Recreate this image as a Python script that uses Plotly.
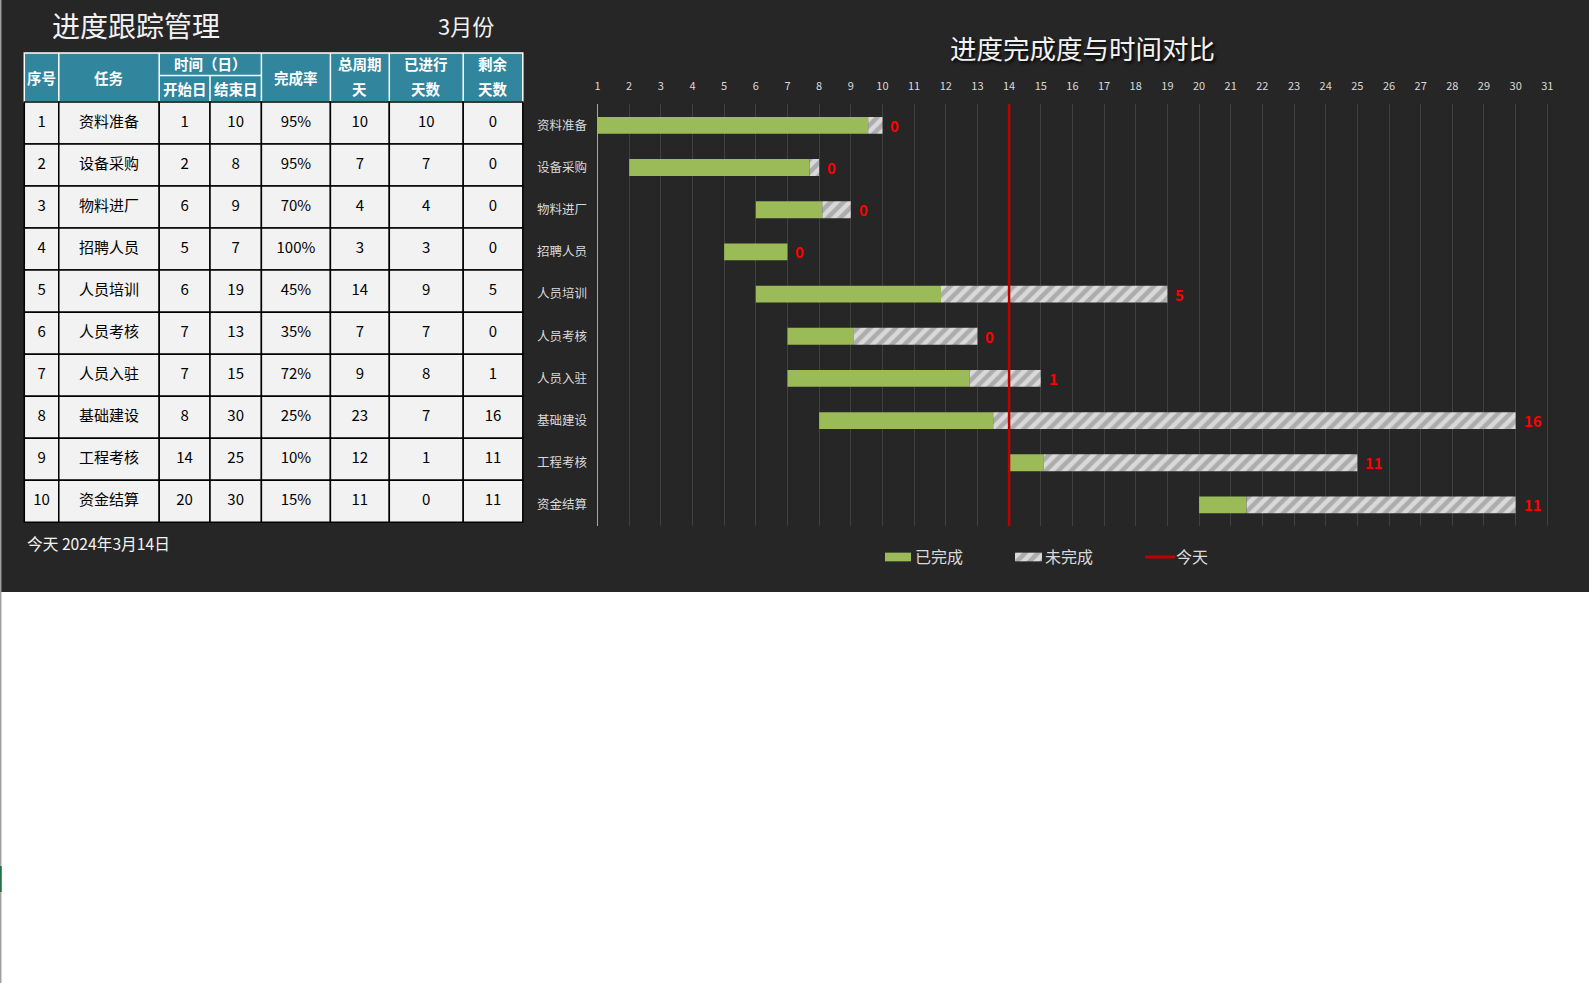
import plotly.graph_objects as go

W, H = 1589, 983
FONT = "Noto Sans CJK SC"

# ---------------- data ----------------
seq_no = [1, 2, 3, 4, 5, 6, 7, 8, 9, 10]
tasks = ["资料准备", "设备采购", "物料进厂", "招聘人员", "人员培训",
         "人员考核", "人员入驻", "基础建设", "工程考核", "资金结算"]
start_day = [1, 2, 6, 5, 6, 7, 7, 8, 14, 20]
end_day = [10, 8, 9, 7, 19, 13, 15, 30, 25, 30]
completion_text = ["95%", "95%", "70%", "100%", "45%", "35%", "72%", "25%", "10%", "15%"]
completion_rate = [0.95, 0.95, 0.70, 1.00, 0.45, 0.35, 0.72, 0.25, 0.10, 0.15]
total_days = [10, 7, 4, 3, 14, 7, 9, 23, 12, 11]
elapsed_days = [10, 7, 4, 3, 9, 7, 8, 7, 1, 0]
remaining_days = [0, 0, 0, 0, 5, 0, 1, 16, 11, 11]
today_day = 14
day_ticks = list(range(1, 32))

page_title = "进度跟踪管理"
month_label = "3月份"
chart_title = "进度完成度与时间对比"
today_note = "今天 2024年3月14日"
legend_labels = ["已完成", "未完成", "今天"]

# header texts
head_single = ["序号", "任务", None, None, "完成率", None, None, None]
head_group = "时间（日）"
head_sub = ["开始日", "结束日"]
head_two_line = {5: ("总周期", "天"), 6: ("已进行", "天数"), 7: ("剩余", "天数")}

# ---------------- styles ----------------
BG_DARK = "#262626"
GREEN = "#9BBB59"
HATCH_BG = "#D9D9D9"
HATCH_FG = "#7F7F7F"
TODAY_RED = "#C00000"
TEAL = "#31859C"
CELL = "#F2F2F2"
LIGHT_TXT = "#D9D9D9"

# table geometry (pixel units)
col_edges = [24.3, 58.8, 159.2, 210.0, 261.4, 330.4, 389.3, 463.2, 522.8]
hdr_top, hdr_mid, hdr_bot = 53.0, 75.5, 102.0
row_h = (522.3 - hdr_bot) / len(tasks)

# gantt geometry
px_day1, px_per_day = 597.5, 31.66
x_range = [1, 31.05]
x_dom = [px_day1 / W, (px_day1 + (x_range[1] - 1) * px_per_day) / W]
plot_top, plot_bot = 104.3, 526.0
y_dom = [(H - plot_bot) / H, (H - plot_top) / H]

span = [e - s for s, e in zip(start_day, end_day)]
done_len = [r * sp for r, sp in zip(completion_rate, span)]
todo_len = [(1 - r) * sp for r, sp in zip(completion_rate, span)]
todo_base = [s + d for s, d in zip(start_day, done_len)]

fig = go.Figure()

hatch = dict(shape="/", fgcolor=HATCH_FG, bgcolor=HATCH_BG, size=9, solidity=0.5)

fig.add_trace(go.Bar(y=tasks, x=done_len, base=start_day, orientation="h", width=0.4,
                     marker=dict(color=GREEN, line=dict(width=0)),
                     name=legend_labels[0], xaxis="x", yaxis="y", showlegend=False,
                     hoverinfo="skip"))
fig.add_trace(go.Bar(y=tasks, x=todo_len, base=todo_base, orientation="h", width=0.4,
                     marker=dict(color=HATCH_BG, pattern=hatch, line=dict(width=0)),
                     name=legend_labels[1], xaxis="x", yaxis="y", showlegend=False,
                     hoverinfo="skip"))

# remaining-days labels
for t, e, r in zip(tasks, end_day, remaining_days):
    fig.add_annotation(x=e, y=t, xref="x", yref="y", text=f"<b>{r}</b>", showarrow=False,
                       xanchor="left", xshift=6, yshift=0,
                       font=dict(family=FONT, size=15, color="#FF0000"))

shapes = []
# today line
shapes.append(dict(type="line", xref="x", yref="y domain", x0=today_day, x1=today_day, y0=0, y1=1,
                   line=dict(color=TODAY_RED, width=2.5), layer="above"))
# white lower page area (paper bg is dark)
shapes.append(dict(type="rect", xref="x2", yref="y2", x0=0, x1=W, y0=592, y1=H,
                   fillcolor="white", line=dict(width=0), layer="below"))
shapes.append(dict(type="line", xref="x2", yref="y2", x0=0.7, x1=0.7, y0=0, y1=H,
                   line=dict(color="#A0A0A0", width=1.5), layer="above"))
shapes.append(dict(type="line", xref="x2", yref="y2", x0=0.7, x1=0.7, y0=866, y1=892,
                   line=dict(color="#217346", width=2), layer="above"))

# header
shapes.append(dict(type="rect", xref="x2", yref="y2", x0=col_edges[0], x1=col_edges[-1],
                   y0=hdr_top, y1=hdr_bot, fillcolor=TEAL, line=dict(color="white", width=1.5),
                   layer="below"))
for i, xe in enumerate(col_edges[1:-1], start=1):
    y_start = hdr_mid if i == 3 else hdr_top
    shapes.append(dict(type="line", xref="x2", yref="y2", x0=xe, x1=xe, y0=y_start, y1=hdr_bot,
                       line=dict(color="white", width=1.5), layer="below"))
shapes.append(dict(type="line", xref="x2", yref="y2", x0=col_edges[2], x1=col_edges[4],
                   y0=hdr_mid, y1=hdr_mid, line=dict(color="white", width=1.5), layer="below"))

# body cells
for r in range(len(tasks)):
    y0 = hdr_bot + r * row_h
    for c in range(len(col_edges) - 1):
        shapes.append(dict(type="rect", xref="x2", yref="y2", x0=col_edges[c], x1=col_edges[c + 1],
                           y0=y0, y1=y0 + row_h, fillcolor=CELL,
                           line=dict(color="black", width=1.5), layer="below"))

# legend swatch (line)
shapes.append(dict(type="line", xref="x2", yref="y2", x0=1145, x1=1175, y0=557, y1=557,
                   line=dict(color=TODAY_RED, width=3), layer="above"))
fig.update_layout(shapes=shapes)

# body text
col_centers = [(a + b) / 2 for a, b in zip(col_edges[:-1], col_edges[1:])]
columns = [seq_no, tasks, start_day, end_day, completion_text, total_days, elapsed_days, remaining_days]
tx, ty, tt = [], [], []
for c, vals in enumerate(columns):
    for r, v in enumerate(vals):
        tx.append(col_centers[c])
        ty.append(hdr_bot + (r + 0.5) * row_h)
        tt.append(str(v))
fig.add_trace(go.Scatter(x=tx, y=ty, text=tt, mode="text", xaxis="x2", yaxis="y2",
                         textfont=dict(family=FONT, size=15, color="black"),
                         showlegend=False, hoverinfo="skip", cliponaxis=False))

# legend swatch bars
fig.add_trace(go.Bar(y=[557], x=[26], base=[885], orientation="h", width=[8.7],
                     marker=dict(color=GREEN, line=dict(width=0)), xaxis="x2", yaxis="y2",
                     showlegend=False, hoverinfo="skip"))
fig.add_trace(go.Bar(y=[557], x=[27], base=[1015], orientation="h", width=[8.7],
                     marker=dict(color=HATCH_BG, pattern=hatch, line=dict(width=0)),
                     xaxis="x2", yaxis="y2", showlegend=False, hoverinfo="skip"))

# header text
hfont = dict(family=FONT, size=14.5, color="white")
def ann(x, y, text, font, xanchor="center"):
    fig.add_annotation(x=x, y=y, xref="x2", yref="y2", text=text, showarrow=False,
                       xanchor=xanchor, yanchor="middle", font=font)

mid_y = (hdr_top + hdr_bot) / 2
top_y = (hdr_top + hdr_mid) / 2 - 1
bot_y = (hdr_mid + hdr_bot) / 2
for c, t in enumerate(head_single):
    if t:
        ann(col_centers[c], mid_y, f"<b>{t}</b>", hfont)
ann((col_edges[2] + col_edges[4]) / 2, top_y, f"<b>{head_group}</b>", hfont)
ann(col_centers[2], bot_y, f"<b>{head_sub[0]}</b>", hfont)
ann(col_centers[3], bot_y, f"<b>{head_sub[1]}</b>", hfont)
for c, (a, b) in head_two_line.items():
    ann(col_centers[c], top_y, f"<b>{a}</b>", hfont)
    ann(col_centers[c], bot_y, f"<b>{b}</b>", hfont)

# titles / notes
ann(50, 25, page_title, dict(family=FONT, size=28, color="#F2F2F2"), xanchor="left")
ann(436, 25, month_label, dict(family=FONT, size=22, color="#F2F2F2"), xanchor="left")
fig.add_annotation(x=1082.5, y=47.5, xref="x2", yref="y2", text=chart_title, showarrow=False,
                   xanchor="center", yanchor="middle",
                   font=dict(family=FONT, size=26.5, color="#F2F2F2",
                             shadow="2px 2px 3px rgba(0,0,0,0.9)"))
ann(25, 543, today_note, dict(family=FONT, size=15.7, color="#F2F2F2"), xanchor="left")

# legend texts
lfont = dict(family=FONT, size=16, color=LIGHT_TXT)
for xpos, lab in zip([913, 1043, 1174], legend_labels):
    ann(xpos, 555.5, lab, lfont, xanchor="left")

fig.update_layout(
    width=W, height=H, autosize=False,
    margin=dict(l=0, r=0, t=0, b=0, pad=0, autoexpand=False),
    paper_bgcolor=BG_DARK, plot_bgcolor="rgba(0,0,0,0)",
    barmode="overlay", showlegend=False,
    font=dict(family=FONT),
    xaxis=dict(domain=x_dom, range=x_range, side="top", anchor="y", automargin=False,
               tickmode="array", tickvals=day_ticks, ticktext=[str(d) for d in day_ticks],
               showgrid=True, gridcolor="#404040", gridwidth=1, zeroline=False, showline=False,
               ticks="outside", ticklen=9, tickcolor="rgba(0,0,0,0)",
               tickfont=dict(family=FONT, size=11, color=LIGHT_TXT), fixedrange=True),
    yaxis=dict(domain=y_dom, type="category", categoryorder="array", categoryarray=tasks,
               range=[9.5, -0.5], anchor="x", showgrid=False, zeroline=False, automargin=False,
               showline=True, linecolor="#A6A6A6", linewidth=1,
               ticks="outside", ticklen=7, tickcolor="rgba(0,0,0,0)",
               tickfont=dict(family=FONT, size=12.5, color=LIGHT_TXT), fixedrange=True),
    xaxis2=dict(domain=[0, 1], range=[0, W], anchor="y2", visible=False, fixedrange=True,
                automargin=False),
    yaxis2=dict(domain=[0, 1], range=[H, 0], anchor="x2", visible=False, fixedrange=True,
                automargin=False),
)

fig.write_html("out.html")
